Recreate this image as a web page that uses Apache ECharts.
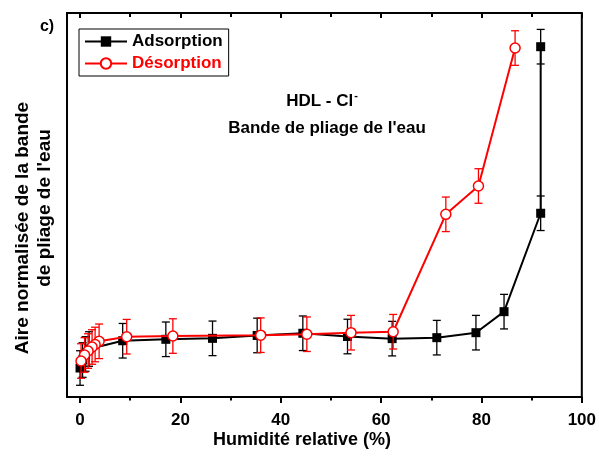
<!DOCTYPE html>
<html>
<head>
<meta charset="utf-8">
<script src="https://cdn.jsdelivr.net/npm/echarts@6/dist/echarts.min.js"></script>
<style>
html,body{margin:0;padding:0;background:#fff;}
#chart{width:599px;height:462px;}
</style>
</head>
<body>
<div id="chart"></div>
<script>
// ---- data ----
const xMajorTicks = [0, 20, 40, 60, 80, 100];
const xMinorTicks = [10, 30, 50, 70, 90];

const adsX   = [0, 0.5, 1.1, 1.8, 8.5, 17.1, 26.4, 35.3, 44.4, 53.3, 62.2, 71.1, 78.9, 84.5, 91.8, 91.8];
const adsY   = [0.302, 0.385, 0.448, 0.500, 0.586, 0.601, 0.611, 0.641, 0.664, 0.630, 0.608, 0.618, 0.670, 0.889, 1.914, 3.649];
const adsErr = [0.18, 0.18, 0.18, 0.18, 0.18, 0.18, 0.18, 0.18, 0.18, 0.18, 0.18, 0.18, 0.18, 0.18, 0.18, 0.18];

const desX   = [86.7, 79.4, 72.9, 62.4, 54.0, 45.2, 36.0, 18.5, 9.3, 3.8, 3.0, 2.4, 1.6, 0.9, 0.2];
const desY   = [3.635, 2.198, 1.903, 0.680, 0.670, 0.654, 0.644, 0.635, 0.628, 0.580, 0.547, 0.521, 0.479, 0.438, 0.375];
const desErr = [0.18, 0.18, 0.18, 0.18, 0.18, 0.18, 0.18, 0.18, 0.18, 0.18, 0.18, 0.18, 0.18, 0.18, 0.18];

const FONT = "'Liberation Sans', Arial, Helvetica, sans-serif";

function pts(xs, ys) { return xs.map((x, i) => [x, ys[i]]); }
function errPts(xs, ys, es) { return xs.map((x, i) => [x, ys[i], es[i]]); }

function errRender(color) {
  return function (params, api) {
    const x = api.value(0), y = api.value(1), e = api.value(2);
    const t = api.coord([x, y + e]);
    const b = api.coord([x, y - e]);
    const w = 4;
    const st = { stroke: color, lineWidth: 1.3 };
    return {
      type: 'group',
      children: [
        { type: 'line', shape: { x1: t[0], y1: t[1], x2: b[0], y2: b[1] }, style: st },
        { type: 'line', shape: { x1: t[0] - w, y1: t[1], x2: t[0] + w, y2: t[1] }, style: st },
        { type: 'line', shape: { x1: b[0] - w, y1: b[1], x2: b[0] + w, y2: b[1] }, style: st }
      ]
    };
  };
}

const chart = echarts.init(document.getElementById('chart'), null, { renderer: 'canvas' });

const xBase = { type: 'value', min: -2.6, max: 100, splitLine: { show: false }, axisLine: { show: false } };

const option = {
  animation: false,
  backgroundColor: '#fff',
  textStyle: { fontFamily: FONT },
  grid: { left: 67, right: 16, top: 13, bottom: 65, show: true, borderColor: '#000', borderWidth: 2, backgroundColor: 'transparent' },
  xAxis: [
    Object.assign({}, xBase, {
      position: 'bottom',
      axisTick: { show: true, customValues: xMajorTicks, length: 6, lineStyle: { color: '#000', width: 2 } },
      axisLabel: { show: true, customValues: xMajorTicks, margin: 15, color: '#000', fontSize: 17, fontWeight: 'bold', fontFamily: FONT }
    }),
    Object.assign({}, xBase, {
      position: 'bottom',
      axisTick: { show: true, customValues: xMinorTicks, length: 3.5, lineStyle: { color: '#000', width: 2 } },
      axisLabel: { show: false }
    }),
    Object.assign({}, xBase, {
      position: 'top',
      axisTick: { show: true, inside: true, customValues: xMajorTicks, length: 5, lineStyle: { color: '#000', width: 2 } },
      axisLabel: { show: false }
    }),
    Object.assign({}, xBase, {
      position: 'top',
      axisTick: { show: true, inside: true, customValues: xMinorTicks, length: 4, lineStyle: { color: '#000', width: 2 } },
      axisLabel: { show: false }
    })
  ],
  yAxis: {
    type: 'value', min: 0, max: 4,
    axisLine: { show: false }, axisTick: { show: false }, axisLabel: { show: false }, splitLine: { show: false }
  },
  legend: {
    left: 79, top: 29,
    orient: 'vertical',
    borderColor: '#000', borderWidth: 1,
    padding: [4, 6, 4, 5],
    itemGap: 5,
    itemWidth: 42, itemHeight: 13,
    textStyle: { fontSize: 17, fontWeight: 'bold', fontFamily: FONT, lineHeight: 17 },
    data: [
      { name: 'Adsorption', textStyle: { color: '#000' } },
      { name: 'Désorption', textStyle: { color: '#ff0000' } }
    ]
  },
  graphic: [
    { type: 'text', x: 47, y: 27, style: { text: 'c)', font: 'bold 16px ' + FONT, fill: '#000', align: 'center', verticalAlign: 'middle' } },
    { type: 'text', x: 322, y: 101, style: {
        text: '{a|HDL - Cl}{s|-}', align: 'center', verticalAlign: 'middle',
        rich: {
          a: { font: 'bold 17px ' + FONT, fill: '#000' },
          s: { font: 'bold 11px ' + FONT, fill: '#000', padding: [0, 0, 11, 1] }
        } } },
    { type: 'text', x: 327, y: 128, style: { text: "Bande de pliage de l'eau", font: 'bold 17px ' + FONT, fill: '#000', align: 'center', verticalAlign: 'middle' } },
    { type: 'text', x: 302, y: 440, style: { text: 'Humidité relative (%)', font: 'bold 18px ' + FONT, fill: '#000', align: 'center', verticalAlign: 'middle' } },
    { type: 'text', x: 23, y: 228, rotation: Math.PI / 2, style: { text: 'Aire normalisée de la bande', font: 'bold 19px ' + FONT, fill: '#000', align: 'center', verticalAlign: 'middle' } },
    { type: 'text', x: 45, y: 208, rotation: Math.PI / 2, style: { text: "de pliage de l'eau", font: 'bold 19px ' + FONT, fill: '#000', align: 'center', verticalAlign: 'middle' } }
  ],
  series: [
    {
      name: 'AdsErr', type: 'custom', xAxisIndex: 0, yAxisIndex: 0,
      renderItem: errRender('#000'), data: errPts(adsX, adsY, adsErr),
      encode: { x: 0, y: 1 }, z: 2, silent: true
    },
    {
      name: 'Adsorption', type: 'line', xAxisIndex: 0, yAxisIndex: 0,
      data: pts(adsX, adsY),
      symbol: 'rect', symbolSize: 9, showAllSymbol: true,
      itemStyle: { color: '#000' },
      lineStyle: { color: '#000', width: 2 }, z: 3
    },
    {
      name: 'DesErr', type: 'custom', xAxisIndex: 0, yAxisIndex: 0,
      renderItem: errRender('#ff0000'), data: errPts(desX, desY, desErr),
      encode: { x: 0, y: 1 }, z: 4, silent: true
    },
    {
      name: 'Désorption', type: 'line', xAxisIndex: 0, yAxisIndex: 0,
      data: pts(desX, desY),
      symbol: 'circle', symbolSize: 10, showAllSymbol: true,
      itemStyle: { color: '#fff', borderColor: '#ff0000', borderWidth: 1.5 },
      lineStyle: { color: '#ff0000', width: 2 }, z: 5
    }
  ]
};
chart.setOption(option);
</script>
</body>
</html>
